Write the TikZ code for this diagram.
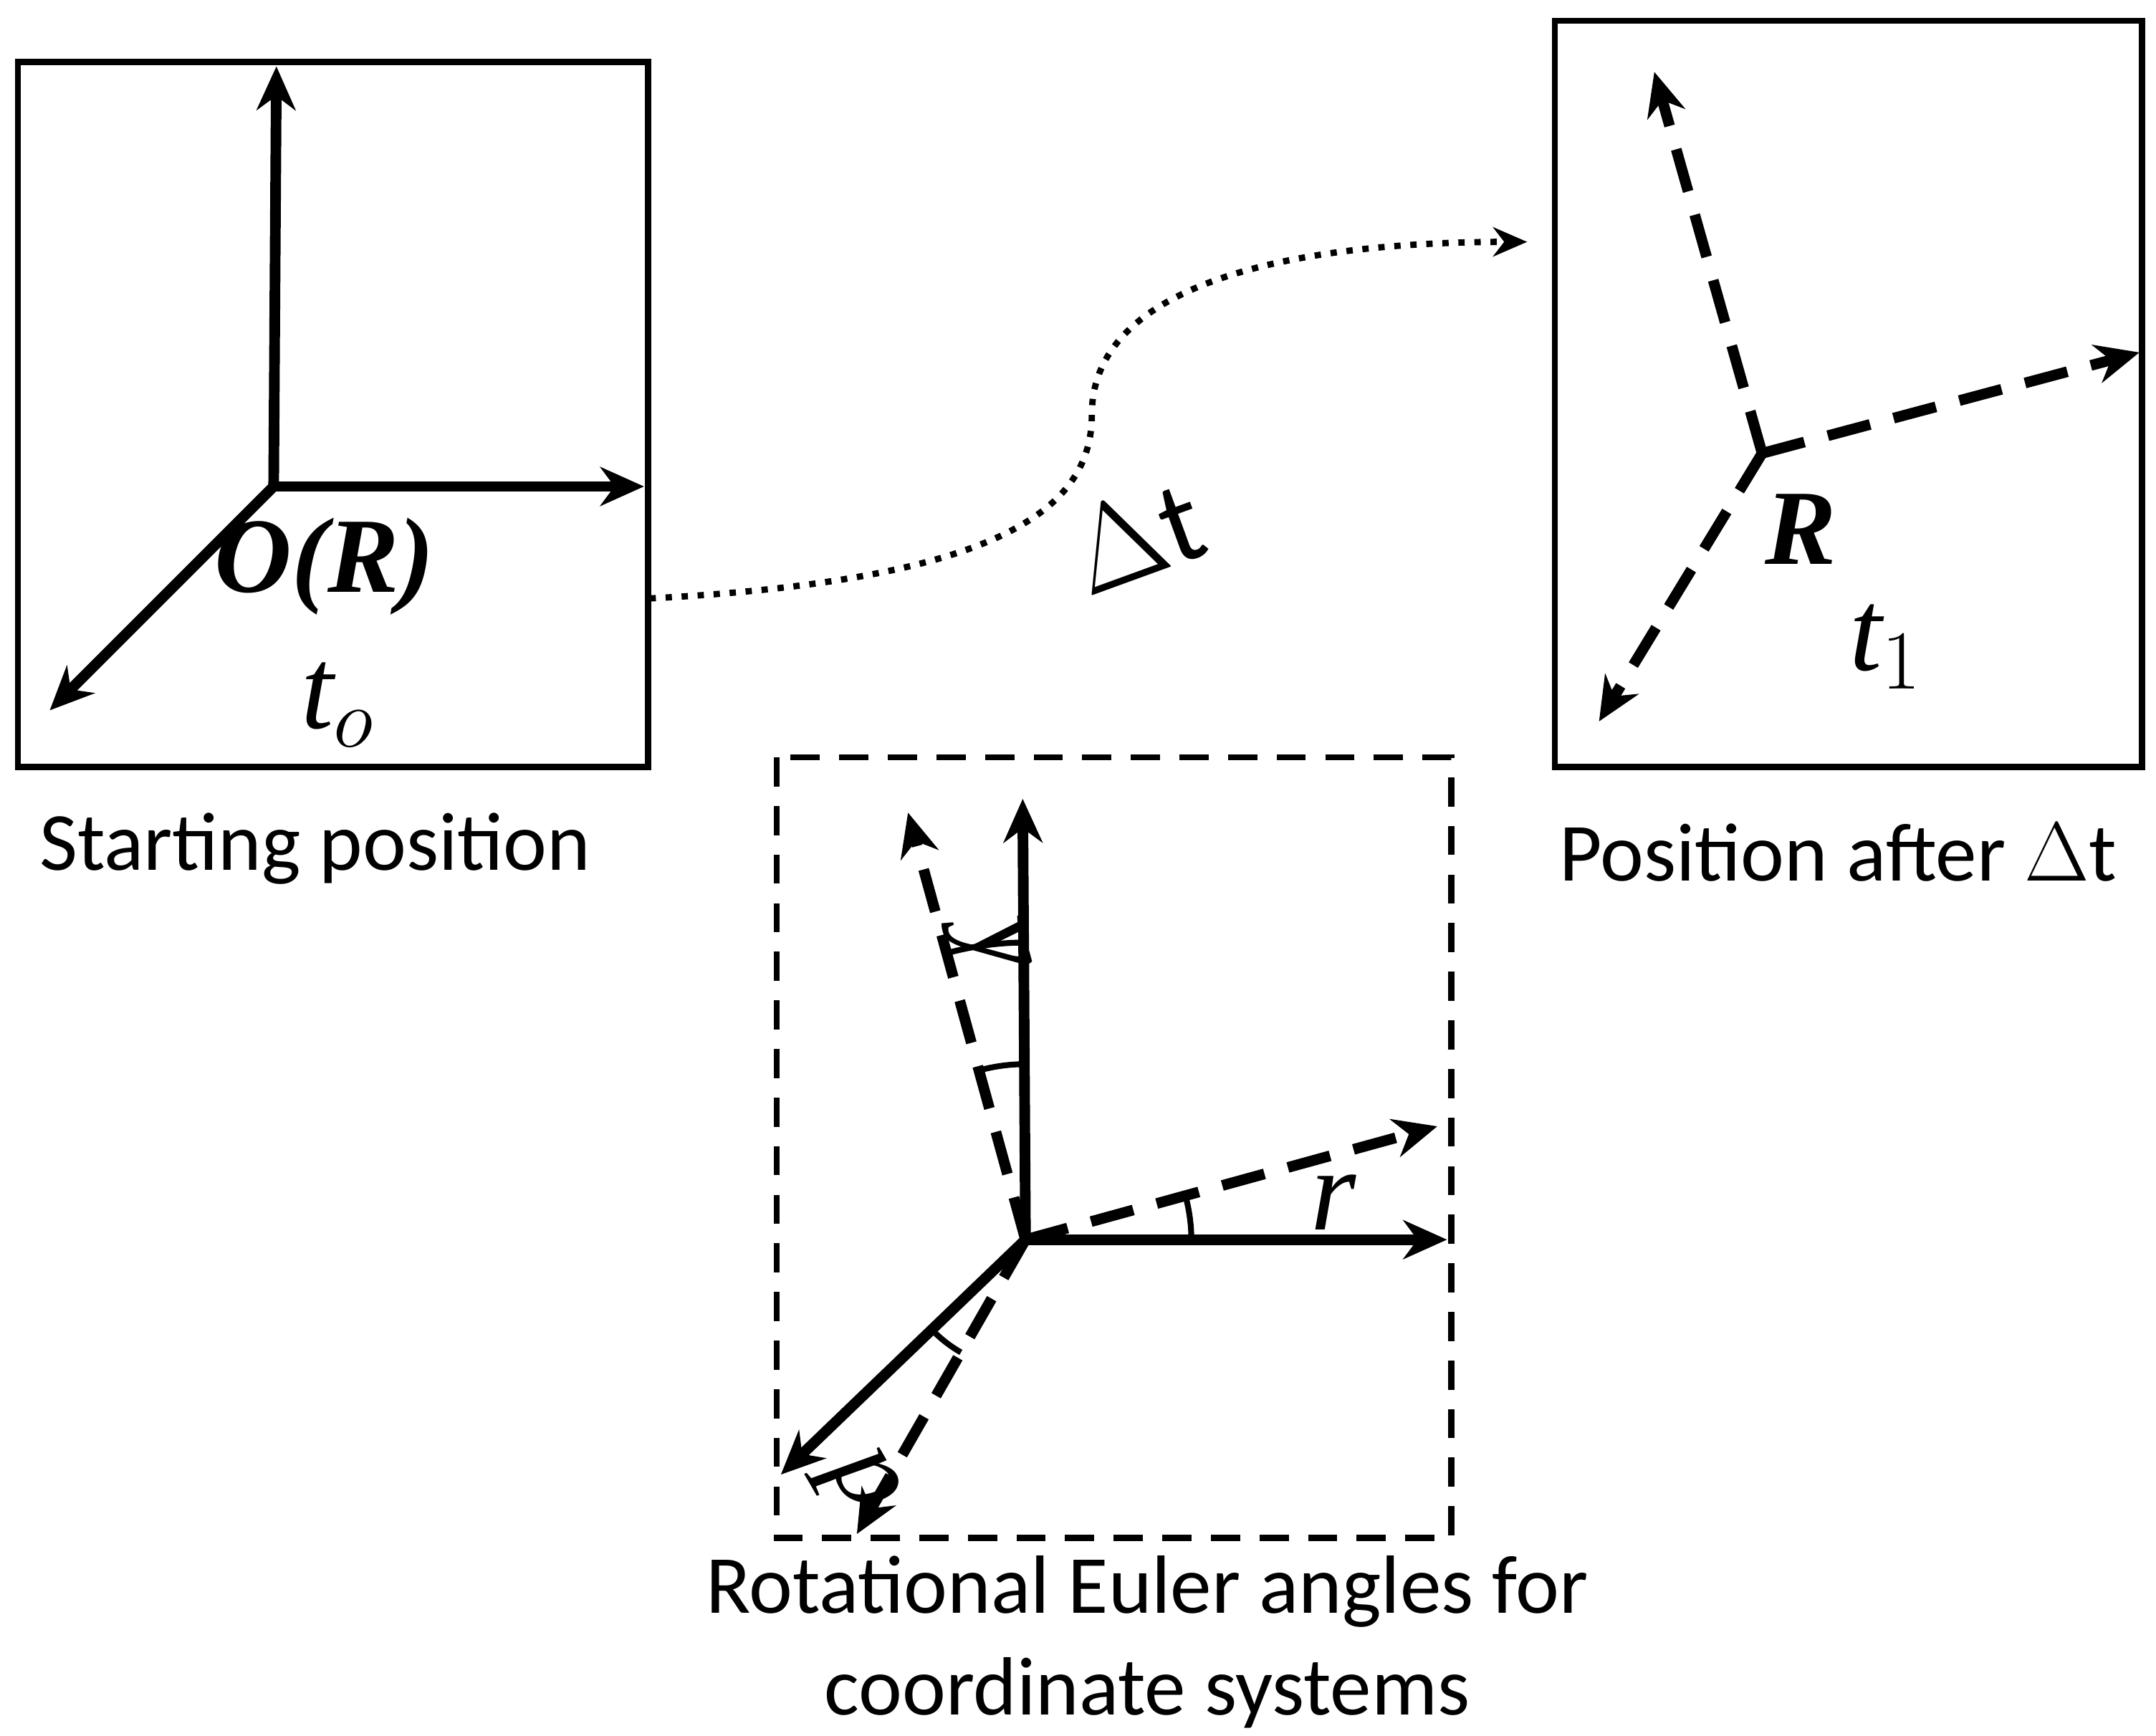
\documentclass[tikz,border=0pt]{standalone}
\usepackage{fontspec}
\setmainfont{Carlito}
\newfontfamily\mathlike{Liberation Serif}
\usetikzlibrary{arrows.meta}
\tikzset{
  axis/.style={line width=2.2pt, -{Stealth[length=9pt,width=8pt]}},
  daxis/.style={axis, dash pattern=on 9pt off 5pt},
  frame/.style={draw, line width=1.3pt},
  caption/.style={font=\fontsize{17}{21}\selectfont, align=center},
  lbl/.style={font=\mathlike\fontsize{22}{24}\selectfont\bfseries\itshape}
}
\begin{document}
\begin{tikzpicture}[x=0.01cm,y=-0.01cm]
    \useasboundingbox (0,0) rectangle (1560,1256);
    % Starting position
    \draw[frame] (13,45) rectangle (469,555);
    \coordinate (o1) at (198,352);
    \coordinate (o1y) at (200,48);
    \coordinate (o1x) at (466,352);
    \coordinate (o1z) at (36,514);
    \draw[axis] (o1) -- (o1y);
    \draw[axis] (o1) -- (o1x);
    \draw[axis] (o1) -- (o1z);
    \node[lbl] (or) at (235,410) {O(R)};
    \node[font=\mathlike\itshape\fontsize{24}{26}\selectfont] (to) at (245,510) {t$_o$};
    \node[caption] (start) at (228,614) {Starting position};
    % Position after dt
    \draw[frame] (1125,15) rectangle (1550,555);
    \coordinate (o2) at (1275,328);
    \coordinate (o2y) at (1197,52);
    \coordinate (o2x) at (1548,255);
    \coordinate (o2z) at (1157,522);
    \draw[daxis] (o2) -- (o2y);
    \draw[daxis] (o2) -- (o2x);
    \draw[daxis] (o2) -- (o2z);
    \node[lbl] (rr) at (1303,383) {R};
    \node[font=\mathlike\itshape\fontsize{24}{26}\selectfont] (t1) at (1365,468) {t$_1$};
    \node[caption] (after) at (1330,617) {Position after $\Delta$t};
    % trajectory
    \coordinate (p0) at (470,433);
    \coordinate (p1) at (1105,175);
    \draw[line width=1.3pt, dotted, -{Stealth[length=7pt,width=6pt]}] (p0) .. controls (720,420) and (790,370) .. (790,300) .. controls (790,200) and (950,175) .. (p1);
    \node[font=\fontsize{24}{26}\selectfont, rotate=20] (dt) at (822,388) {$\Delta$t};
    % Euler angles
    \draw[line width=1.3pt, dash pattern=on 6pt off 4pt] (562,548) rectangle (1050,1113);
    \coordinate (o3) at (742,897);
    \coordinate (o3y) at (740,578);
    \coordinate (o3x) at (1047,897);
    \coordinate (o3z) at (565,1067);
    \coordinate (d3y) at (657,588);
    \coordinate (d3x) at (1040,815);
    \coordinate (d3z) at (620,1110);
    \draw[axis] (o3) -- (o3y);
    \draw[axis] (o3) -- (o3x);
    \draw[axis] (o3) -- (o3z);
    \draw[daxis] (o3) -- (d3y);
    \draw[daxis] (o3) -- (d3x);
    \draw[daxis] (o3) -- (d3z);
    \draw[line width=1.2pt] ([shift={(0:120)}]o3) arc[start angle=0, end angle=-15.4, radius=120];
    \draw[line width=1.2pt] ([shift={(-90.5:127)}]o3) arc[start angle=-90.5, end angle=-105.4, radius=127];
    \draw[line width=1.2pt] ([shift={(-90.5:215)}]o3) arc[start angle=-90.5, end angle=-105.4, radius=215];
    \draw[line width=1.2pt] ([shift={(136.2:94)}]o3) arc[start angle=136.2, end angle=119.8, radius=94];
    \node[font=\mathlike\itshape\fontsize{24}{26}\selectfont, rotate=-75] (gy) at (715,686) {y};
    \node[font=\mathlike\itshape\fontsize{24}{26}\selectfont] (gr) at (965,870) {r};
    \node[font=\mathlike\itshape\fontsize{24}{26}\selectfont, rotate=-60] (gp) at (620,1075) {p};
    \node[caption] (euler) at (830,1188) {Rotational Euler angles for\\coordinate systems};
\end{tikzpicture}
\end{document}
